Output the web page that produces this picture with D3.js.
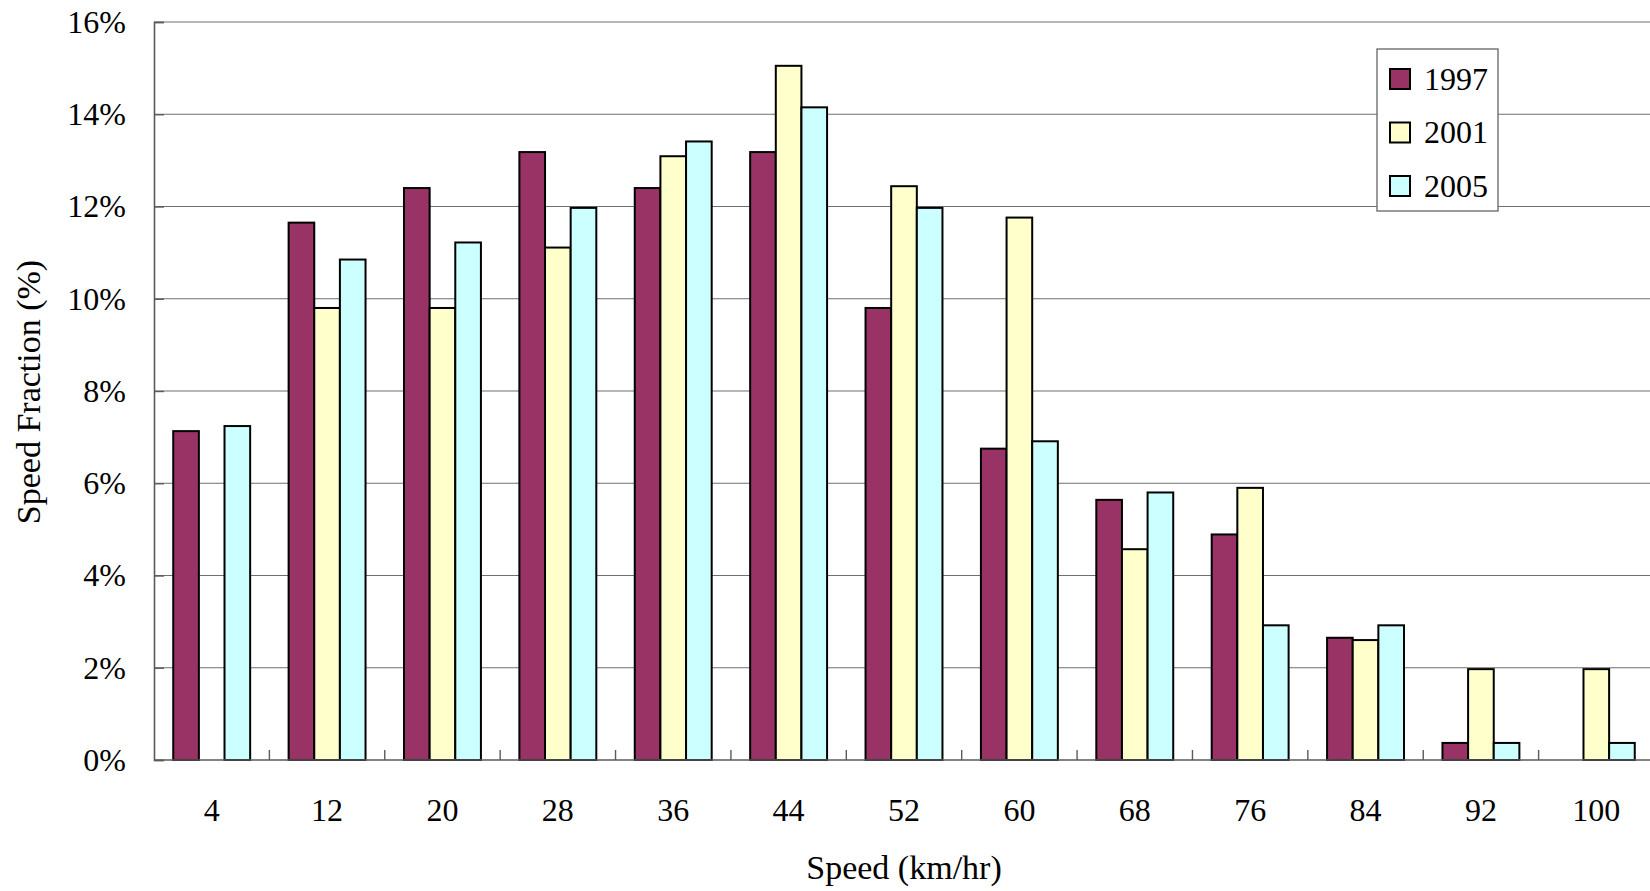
<!DOCTYPE html>
<html>
<head>
<meta charset="utf-8">
<script src="https://cdn.jsdelivr.net/npm/d3@7"></script>
<style>
  html, body { margin: 0; padding: 0; background: #ffffff; }
  svg { display: block; }
  text { font-family: "Liberation Serif", "Times New Roman", serif; fill: #000; }
</style>
</head>
<body>
<svg id="chart" width="1650" height="891"></svg>
<script>
// Speed classes (km/hr, bin centres)
const speeds = ["4", "12", "20", "28", "36", "44", "52", "60", "68", "76", "84", "92", "100"];
const years = ["1997", "2001", "2005"];

// Share of observations in each speed class (%); null = no bar
const share1997 = [7.13, 11.65, 12.40, 13.18, 12.40, 13.18, 9.80, 6.75, 5.64, 4.89, 2.65, 0.37, null];
const share2001 = [null, 9.80, 9.80, 11.11, 13.09, 15.05, 12.44, 11.76, 4.57, 5.90, 2.60, 1.97, 1.97];
const share2005 = [7.24, 10.85, 11.22, 11.97, 13.41, 14.15, 11.97, 6.91, 5.80, 2.92, 2.92, 0.37, 0.37];

const yTicks = [0, 2, 4, 6, 8, 10, 12, 14, 16];
const fills = ["#993366", "#FFFFCC", "#CCFFFF"];

const seriesValues = [share1997, share2001, share2005];

const svg = d3.select("#chart");
const W = 1650, H = 891;
const plot = { left: 154, right: 1654, top: 22, bottom: 760 };

const x0 = d3.scaleBand().domain(speeds).range([plot.left, plot.right]).padding(0);
const bw = x0.bandwidth();
// Excel-style gap width of 150% between groups
const x1 = d3.scaleBand().domain(years).range([bw / 6, bw - bw / 6]).padding(0);
const y = d3.scaleLinear().domain([0, 16]).range([plot.bottom, plot.top]);

// horizontal gridlines
svg.append("g")
  .selectAll("line")
  .data(yTicks.filter(t => t > 0))
  .join("line")
  .attr("x1", plot.left).attr("x2", plot.right)
  .attr("y1", d => y(d)).attr("y2", d => y(d))
  .attr("stroke", "#6f6f6f").attr("stroke-width", 1.2);

// y axis with inside ticks
const yAxis = d3.axisRight(y).tickValues(yTicks).tickSize(10).tickFormat(() => "");
const gy = svg.append("g").attr("transform", `translate(${plot.left},0)`).call(yAxis);
gy.select(".domain").attr("stroke", "#5a5a5a").attr("stroke-width", 1.6);
gy.selectAll(".tick line").attr("stroke", "#5a5a5a").attr("stroke-width", 1.4);

svg.append("g")
  .selectAll("text")
  .data(yTicks)
  .join("text")
  .attr("x", 126)
  .attr("y", d => y(d))
  .attr("dy", "0.34em")
  .attr("text-anchor", "end")
  .attr("font-size", 32)
  .text(d => d + "%");

// bars
const groups = svg.append("g")
  .selectAll("g")
  .data(speeds)
  .join("g")
  .attr("transform", d => `translate(${x0(d)},0)`);

groups.selectAll("rect")
  .data((d, i) => years.map((yr, k) => ({ yr, k, v: seriesValues[k][i] })).filter(e => e.v !== null))
  .join("rect")
  .attr("x", e => x1(e.yr))
  .attr("width", x1.bandwidth())
  .attr("y", e => y(e.v))
  .attr("height", e => y(0) - y(e.v))
  .attr("fill", e => fills[e.k])
  .attr("stroke", "#000")
  .attr("stroke-width", 2);

// x axis: baseline with inside ticks at class boundaries
const boundaries = speeds.map(s => x0(s)).slice(1).concat([plot.right]);
svg.append("g")
  .selectAll("line")
  .data(boundaries)
  .join("line")
  .attr("x1", d => d).attr("x2", d => d)
  .attr("y1", plot.bottom).attr("y2", plot.bottom - 10)
  .attr("stroke", "#5a5a5a").attr("stroke-width", 1.4);
svg.append("line")
  .attr("x1", plot.left).attr("x2", plot.right)
  .attr("y1", plot.bottom).attr("y2", plot.bottom)
  .attr("stroke", "#5a5a5a").attr("stroke-width", 1.6);

svg.append("g")
  .selectAll("text")
  .data(speeds)
  .join("text")
  .attr("x", d => x0(d) + bw / 2)
  .attr("y", 821)
  .attr("text-anchor", "middle")
  .attr("font-size", 32)
  .text(d => d);

// axis titles
svg.append("text")
  .attr("x", (plot.left + plot.right) / 2)
  .attr("y", 879)
  .attr("text-anchor", "middle")
  .attr("font-size", 34)
  .text("Speed (km/hr)");

svg.append("text")
  .attr("transform", "translate(40,392) rotate(-90)")
  .attr("text-anchor", "middle")
  .attr("font-size", 34)
  .text("Speed Fraction (%)");

// legend
const lg = svg.append("g").attr("transform", "translate(1377,49)");
lg.append("rect")
  .attr("width", 121).attr("height", 162)
  .attr("fill", "#fff").attr("stroke", "#6f6f6f").attr("stroke-width", 1.4);
const items = lg.selectAll("g.item")
  .data(years)
  .join("g")
  .attr("class", "item")
  .attr("transform", (d, i) => `translate(0,${30 + i * 53.5})`);
items.append("rect")
  .attr("x", 13).attr("y", -10).attr("width", 20).attr("height", 20)
  .attr("fill", (d, i) => fills[i])
  .attr("stroke", "#000").attr("stroke-width", 2);
items.append("text")
  .attr("x", 47).attr("y", 0).attr("dy", "0.34em")
  .attr("font-size", 32)
  .text(d => d);
</script>
</body>
</html>
